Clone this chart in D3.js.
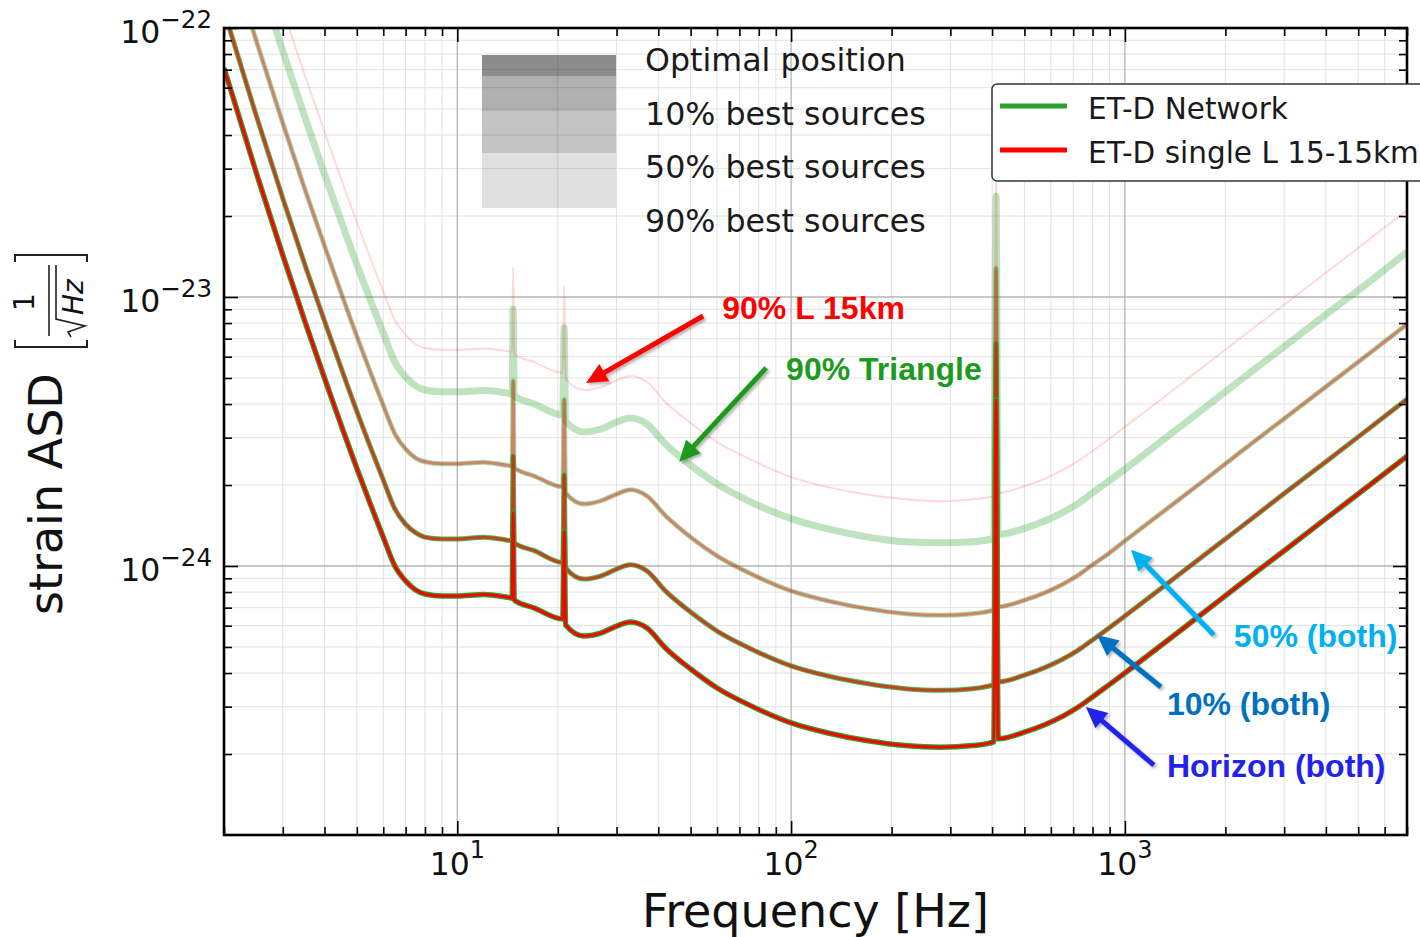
<!DOCTYPE html>
<html>
<head>
<meta charset="utf-8">
<script src="https://cdn.jsdelivr.net/npm/d3@7"></script>
<style>
  body { margin: 0; background: #fff; }
  svg { display: block; font-family: "DejaVu Sans", sans-serif; }
</style>
</head>
<body>
<svg width="1420" height="937"></svg>
<script>
// frequency grid of the sensitivity curves [Hz]
var freqHz = [2, 2.5, 3, 3.5, 4, 5, 6, 6.5, 7, 7.5,
  8, 9, 10, 12, 14, 14.6, 14.7, 14.8, 17, 20.7,
  20.9, 21.1, 24, 27, 30, 33, 37, 42, 50, 60,
  75, 100, 130, 170, 220, 280, 350, 405, 411, 417,
  500, 575, 650, 725, 800, 900, 1000, 1300, 1700, 2200,
  3000, 4000, 5500, 7000];

// strain ASD, optimal sky position (network and single L coincide)
var asdHorizon = [7.10e-23, 2.89e-23, 1.43e-23, 8.07e-24, 5.00e-24, 2.31e-24, 1.28e-24, 1.00e-24, 8.80e-25, 8.14e-25,
  7.87e-25, 7.74e-25, 7.74e-25, 7.84e-25, 7.67e-25, 7.61e-25, 1.57e-24, 7.48e-25, 6.98e-25, 6.35e-25,
  1.34e-24, 6.04e-25, 5.49e-25, 5.64e-25, 5.98e-25, 6.19e-25, 5.88e-25, 4.96e-25, 4.14e-25, 3.52e-25,
  3.04e-25, 2.61e-25, 2.39e-25, 2.24e-25, 2.15e-25, 2.12e-25, 2.15e-25, 2.22e-25, 4.14e-24, 2.28e-25,
  2.41e-25, 2.57e-25, 2.76e-25, 2.99e-25, 3.26e-25, 3.63e-25, 4.00e-25, 5.13e-25, 6.63e-25, 8.50e-25,
  1.14e-24, 1.50e-24, 2.03e-24, 2.56e-24];

// 10% best sources
var asd10 = [1.16e-22, 4.71e-23, 2.33e-23, 1.31e-23, 8.15e-24, 3.76e-24, 2.09e-24, 1.63e-24, 1.43e-24, 1.33e-24,
  1.28e-24, 1.26e-24, 1.26e-24, 1.28e-24, 1.25e-24, 1.24e-24, 2.56e-24, 1.22e-24, 1.14e-24, 1.03e-24,
  2.18e-24, 9.84e-25, 8.94e-25, 9.19e-25, 9.74e-25, 1.01e-24, 9.58e-25, 8.08e-25, 6.74e-25, 5.73e-25,
  4.95e-25, 4.25e-25, 3.89e-25, 3.65e-25, 3.50e-25, 3.45e-25, 3.50e-25, 3.62e-25, 6.74e-24, 3.71e-25,
  3.93e-25, 4.19e-25, 4.50e-25, 4.87e-25, 5.31e-25, 5.91e-25, 6.52e-25, 8.36e-25, 1.08e-24, 1.38e-24,
  1.86e-24, 2.44e-24, 3.31e-24, 4.17e-24];

// 50% best sources
var asd50 = [2.20e-22, 8.94e-23, 4.43e-23, 2.50e-23, 1.55e-23, 7.15e-24, 3.96e-24, 3.10e-24, 2.72e-24, 2.52e-24,
  2.44e-24, 2.40e-24, 2.40e-24, 2.43e-24, 2.37e-24, 2.36e-24, 4.86e-24, 2.32e-24, 2.16e-24, 1.97e-24,
  4.15e-24, 1.87e-24, 1.70e-24, 1.75e-24, 1.85e-24, 1.92e-24, 1.82e-24, 1.54e-24, 1.28e-24, 1.09e-24,
  9.41e-25, 8.08e-25, 7.40e-25, 6.93e-25, 6.65e-25, 6.56e-25, 6.65e-25, 6.87e-25, 1.28e-23, 7.06e-25,
  7.46e-25, 7.95e-25, 8.54e-25, 9.25e-25, 1.01e-24, 1.12e-24, 1.24e-24, 1.59e-24, 2.05e-24, 2.63e-24,
  3.53e-24, 4.64e-24, 6.28e-24, 7.92e-24];

// 90% best sources, triangle network
var asd90Triangle = [4.07e-22, 1.66e-22, 8.20e-23, 4.63e-23, 2.87e-23, 1.32e-23, 7.34e-24, 5.73e-24, 5.05e-24, 4.67e-24,
  4.51e-24, 4.44e-24, 4.44e-24, 4.49e-24, 4.40e-24, 4.36e-24, 9.00e-24, 4.29e-24, 4.00e-24, 3.64e-24,
  7.68e-24, 3.46e-24, 3.15e-24, 3.23e-24, 3.43e-24, 3.55e-24, 3.37e-24, 2.84e-24, 2.37e-24, 2.02e-24,
  1.74e-24, 1.50e-24, 1.37e-24, 1.28e-24, 1.23e-24, 1.22e-24, 1.23e-24, 1.27e-24, 2.37e-23, 1.31e-24,
  1.38e-24, 1.47e-24, 1.58e-24, 1.71e-24, 1.87e-24, 2.08e-24, 2.29e-24, 2.94e-24, 3.80e-24, 4.87e-24,
  6.54e-24, 8.60e-24, 1.16e-23, 1.47e-23];

// 90% best sources, single L 15 km
var asd90L = [5.83e-22, 2.37e-22, 1.17e-22, 6.63e-23, 4.11e-23, 1.90e-23, 1.05e-23, 8.21e-24, 7.23e-24, 6.69e-24,
  6.46e-24, 6.36e-24, 6.36e-24, 6.44e-24, 6.30e-24, 6.25e-24, 1.29e-23, 6.14e-24, 5.73e-24, 5.22e-24,
  1.10e-23, 4.96e-24, 4.51e-24, 4.63e-24, 4.91e-24, 5.08e-24, 4.83e-24, 4.07e-24, 3.40e-24, 2.89e-24,
  2.50e-24, 2.14e-24, 1.96e-24, 1.84e-24, 1.77e-24, 1.74e-24, 1.77e-24, 1.82e-24, 3.40e-23, 1.87e-24,
  1.98e-24, 2.11e-24, 2.27e-24, 2.46e-24, 2.68e-24, 2.98e-24, 3.29e-24, 4.21e-24, 5.45e-24, 6.98e-24,
  9.36e-24, 1.23e-23, 1.67e-23, 2.10e-23];

var shadeLabels = ["Optimal position", "10% best sources", "50% best sources", "90% best sources"];
var lineLabels = ["ET-D Network", "ET-D single L 15-15km"];

// callouts: label anchor, arrow tail and arrow tip in data units [Hz, ASD]
var callouts = [
  {text: "90% L 15km",     color: "#ff0000", at: [62.2, 8.29e-24], tail: [54.5, 8.50e-24], tip: [24.3, 4.79e-24]},
  {text: "90% Triangle",   color: "#1e9a1e", at: [96.6, 4.91e-24], tail: [84.2, 5.45e-24], tip: [46.2, 2.44e-24]},
  {text: "50% (both)",     color: "#00b0f0", at: [2120, 5.00e-25], tail: [1847, 5.54e-25], tip: [1043, 1.15e-24]},
  {text: "10% (both)",     color: "#0070c0", at: [1336, 2.79e-25], tail: [1282, 3.55e-25], tip: [825, 5.54e-25]},
  {text: "Horizon (both)", color: "#2222ee", at: [1336, 1.64e-25], tail: [1221, 1.82e-25], tip: [764, 2.99e-25]}
];

var svg = d3.select("svg");
var L = 224, R = 1407, T = 28, B = 835;

var x = d3.scaleLog().domain([2, 7000]).range([L, R]);
var y = d3.scaleLog().domain([1e-25, 1e-22]).range([B, T]);

function isDecade(v) {
  var l = Math.log10(v);
  return Math.abs(l - Math.round(l)) < 1e-6;
}
var xAll = x.ticks(), yAll = y.ticks();
var xMajor = xAll.filter(isDecade), xMinor = xAll.filter(function(v) { return !isDecade(v); });
var yMajor = yAll.filter(isDecade), yMinor = yAll.filter(function(v) { return !isDecade(v); });

var defs = svg.append("defs");
defs.append("clipPath").attr("id", "plot-clip")
  .append("rect").attr("x", L).attr("y", T).attr("width", R - L).attr("height", B - T);
defs.append("filter").attr("id", "shadow")
    .attr("x", "-30%").attr("y", "-30%").attr("width", "160%").attr("height", "160%")
  .append("feDropShadow")
    .attr("dx", 2).attr("dy", 2).attr("stdDeviation", 1.6)
    .attr("flood-color", "#000").attr("flood-opacity", 0.3);

// grid
var grid = svg.append("g");
grid.selectAll(".vminor").data(xMinor).enter().append("line")
  .attr("x1", d => x(d)).attr("x2", d => x(d)).attr("y1", T).attr("y2", B)
  .attr("stroke", "#e2e2e2").attr("stroke-width", 1);
grid.selectAll(".hminor").data(yMinor).enter().append("line")
  .attr("y1", d => y(d)).attr("y2", d => y(d)).attr("x1", L).attr("x2", R)
  .attr("stroke", "#e2e2e2").attr("stroke-width", 1);
grid.selectAll(".vmajor").data(xMajor).enter().append("line")
  .attr("x1", d => x(d)).attr("x2", d => x(d)).attr("y1", T).attr("y2", B)
  .attr("stroke", "#b4b4b4").attr("stroke-width", 1.3);
grid.selectAll(".hmajor").data(yMajor).enter().append("line")
  .attr("y1", d => y(d)).attr("y2", d => y(d)).attr("x1", L).attr("x2", R)
  .attr("stroke", "#b4b4b4").attr("stroke-width", 1.3);

// shaded key for the sky-position levels
var shadeKey = svg.append("g");
var bandTop = [55, 76, 111, 153], bandBottom = [76, 111, 153, 208], bandAlpha = [0.45, 0.31, 0.235, 0.12];
shadeKey.selectAll("rect").data(bandTop).enter().append("rect")
  .attr("x", 482).attr("width", 134)
  .attr("y", d => d).attr("height", (d, i) => bandBottom[i] - d)
  .attr("fill", "#000").attr("fill-opacity", (d, i) => bandAlpha[i]);
shadeKey.selectAll("text").data(shadeLabels).enter().append("text")
  .attr("x", 645).attr("y", (d, i) => 71 + i * 53.7)
  .style("font-size", "31.7px").attr("fill", "#1a1a1a")
  .text(d => d);

// curves
var line = d3.line()
  .x((d, i) => x(freqHz[i]))
  .y(d => y(d))
  .curve(d3.curveMonotoneX);

var curves = [
  {values: asd90Triangle, color: "#2ca02c", width: 7,   opacity: 0.3},
  {values: asd90L,        color: "#ff0000", width: 2,   opacity: 0.15},
  {values: asd50,         color: "#2ca02c", width: 5,   opacity: 0.4},
  {values: asd50,         color: "#ff0000", width: 3,   opacity: 0.38},
  {values: asd10,         color: "#2ca02c", width: 5,   opacity: 0.8},
  {values: asd10,         color: "#ff0000", width: 3,   opacity: 0.62},
  {values: asdHorizon,    color: "#2ca02c", width: 5.5, opacity: 1},
  {values: asdHorizon,    color: "#ff0000", width: 3,   opacity: 1}
];

svg.append("g").attr("clip-path", "url(#plot-clip)")
  .selectAll("path").data(curves).enter().append("path")
  .attr("d", d => line(d.values))
  .attr("fill", "none")
  .attr("stroke", d => d.color)
  .attr("stroke-width", d => d.width)
  .attr("stroke-opacity", d => d.opacity)
  .attr("stroke-linejoin", "round");

// axes: ticks point inward on all four sides
function styleAxis(g) {
  g.select(".domain").remove();
  g.selectAll(".tick line").attr("stroke", "#000").attr("stroke-width", 1.6);
}
function addAxis(axis, tx, ty, values, size) {
  svg.append("g").attr("transform", "translate(" + tx + "," + ty + ")")
    .call(axis.tickValues(values).tickSize(-size).tickFormat(""))
    .call(styleAxis);
}
addAxis(d3.axisBottom(x), 0, B, xMajor, 14);
addAxis(d3.axisBottom(x), 0, B, xMinor, 8);
addAxis(d3.axisTop(x), 0, T, xMajor, 14);
addAxis(d3.axisTop(x), 0, T, xMinor, 8);
addAxis(d3.axisLeft(y), L, 0, yMajor, 14);
addAxis(d3.axisLeft(y), L, 0, yMinor, 8);
addAxis(d3.axisRight(y), R, 0, yMajor, 14);
addAxis(d3.axisRight(y), R, 0, yMinor, 8);

svg.append("rect").attr("x", L).attr("y", T).attr("width", R - L).attr("height", B - T)
  .attr("fill", "none").attr("stroke", "#000").attr("stroke-width", 2.6);

// tick labels as powers of ten
var xl = svg.append("g").selectAll("text").data(xMajor).enter().append("text")
  .attr("x", d => x(d)).attr("y", 875).attr("text-anchor", "middle").attr("fill", "#111");
xl.append("tspan").style("font-size", "31.5px").text("10");
xl.append("tspan").style("font-size", "24px").attr("dy", -17).text(d => Math.round(Math.log10(d)));

var ylab = svg.append("g").selectAll("text").data(yMajor).enter().append("text")
  .attr("x", 212).attr("y", d => y(d) + 15).attr("text-anchor", "end").attr("fill", "#111");
ylab.append("tspan").style("font-size", "31.5px").text("10");
ylab.append("tspan").style("font-size", "24.5px").attr("dy", -15)
  .text(d => "\u2212" + Math.abs(Math.round(Math.log10(d))));

// axis titles
svg.append("text").attr("x", (L + R) / 2).attr("y", 927).attr("text-anchor", "middle")
  .style("font-size", "46px").attr("fill", "#111").text("Frequency [Hz]");

var yt = svg.append("g").attr("transform", "translate(62,615) rotate(-90)").attr("fill", "#111");
yt.append("text").style("font-size", "46px").text("strain ASD");
yt.append("path").attr("d", "M275,-47 H268 V25 H275").attr("fill", "none").attr("stroke", "#222").attr("stroke-width", 2);
yt.append("path").attr("d", "M353,-47 H360 V25 H353").attr("fill", "none").attr("stroke", "#222").attr("stroke-width", 2);
yt.append("text").attr("x", 313).attr("y", -28).attr("text-anchor", "middle").style("font-size", "28px").text("1");
yt.append("line").attr("x1", 279).attr("x2", 350).attr("y1", -13).attr("y2", -13).attr("stroke", "#222").attr("stroke-width", 1.6);
yt.append("path").attr("d", "M278,9 L283,6 L289,23 L296,-6 H350").attr("fill", "none").attr("stroke", "#222").attr("stroke-width", 1.6);
yt.append("text").attr("x", 300).attr("y", 21).style("font-size", "28px").style("font-style", "italic").text("Hz");

// line key (box runs off the right edge)
var key = svg.append("g");
key.append("rect").attr("x", 992).attr("y", 84).attr("width", 470).attr("height", 97).attr("rx", 5)
  .attr("fill", "#fff").attr("stroke", "#333").attr("stroke-width", 1.5);
var keyColors = ["#2ca02c", "#ff0000"];
key.selectAll("line").data(lineLabels).enter().append("line")
  .attr("x1", 1000).attr("x2", 1067)
  .attr("y1", (d, i) => 106 + i * 44).attr("y2", (d, i) => 106 + i * 44)
  .attr("stroke", (d, i) => keyColors[i]).attr("stroke-width", 5);
key.selectAll("text").data(lineLabels).enter().append("text")
  .attr("x", 1088).attr("y", (d, i) => 119 + i * 44)
  .style("font-size", "29.5px").attr("fill", "#1a1a1a").text(d => d);

// callouts
function arrow(g, p0, p1, color) {
  var dx = p1[0] - p0[0], dy = p1[1] - p0[1], len = Math.hypot(dx, dy);
  var ux = dx / len, uy = dy / len, hl = 21, hw = 10;
  var bx = p1[0] - ux * hl, by = p1[1] - uy * hl;
  var a = g.append("g").attr("filter", "url(#shadow)");
  a.append("line").attr("x1", p0[0]).attr("y1", p0[1]).attr("x2", bx + ux * 2).attr("y2", by + uy * 2)
    .attr("stroke", color).attr("stroke-width", 5);
  a.append("path")
    .attr("d", "M" + p1[0] + "," + p1[1] + "L" + (bx - uy * hw) + "," + (by + ux * hw) +
               "L" + (bx + uy * hw) + "," + (by - ux * hw) + "Z")
    .attr("fill", color);
}
var notes = svg.append("g");
callouts.forEach(function(c) {
  arrow(notes, [x(c.tail[0]), y(c.tail[1])], [x(c.tip[0]), y(c.tip[1])], c.color);
  notes.append("text")
    .attr("x", x(c.at[0])).attr("y", y(c.at[1]))
    .style("font-family", "'Liberation Sans', Arial, sans-serif")
    .style("font-weight", "bold").style("font-size", "32px")
    .attr("fill", c.color).text(c.text);
});
</script>
</body>
</html>
